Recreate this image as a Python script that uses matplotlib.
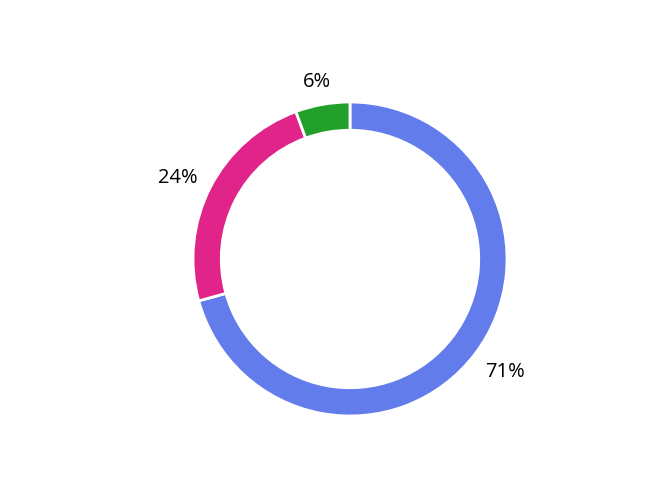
import matplotlib
matplotlib.use("Agg")
import matplotlib.pyplot as plt
import numpy as np

categories = ["A", "B", "C"]
values = [70.7, 23.7, 5.6]
labels = ["71%", "24%", "6%"]
colors = ["#637ceb", "#e0248a", "#23a02c"]

W, H = 664, 494
fig = plt.figure(figsize=(W / 100, H / 100), dpi=100)
R = 157.0
cx, cy = 350.0, H - 259.0
side = 400.0
ax = fig.add_axes([(cx - side / 2) / W, (cy - side / 2) / H, side / W, side / H])
lim = side / 2 / R
wedges, _ = ax.pie(values, colors=colors, startangle=90, counterclock=False,
                   radius=1.0,
                   wedgeprops=dict(width=0.18, edgecolor="white", linewidth=2))
ax.set_xlim(-lim, lim)
ax.set_ylim(-lim, lim)
ax.set_aspect("equal")
ax.axis("off")

fig.canvas.draw()
renderer = fig.canvas.get_renderer()
r0 = 1.11
for w, lab in zip(wedges, labels):
    th = np.deg2rad((w.theta1 + w.theta2) / 2)
    ux, uy = np.cos(th), np.sin(th)
    t = ax.text(0, 0, lab, fontsize=14.5, family=["Open Sans", "DejaVu Sans"],
                color="black", ha="center", va="center_baseline")
    bb = t.get_window_extent(renderer)
    hw = bb.width / 2 / R
    hh = bb.height / 2 / R * 0.8
    t.set_position((r0 * ux + hw * ux, r0 * uy + hh * uy))

fig.savefig("out.png", dpi=100)
